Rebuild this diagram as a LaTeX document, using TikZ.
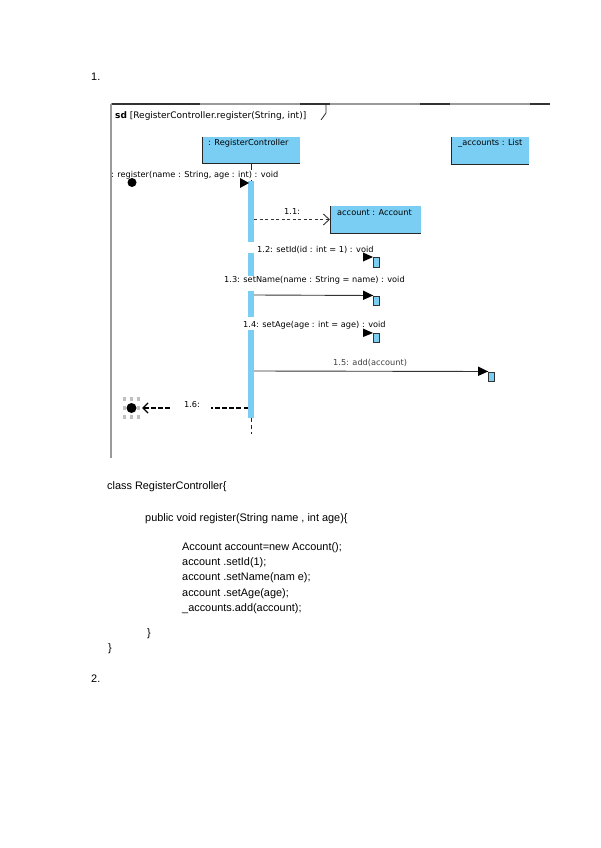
\documentclass[tikz,border=0pt]{standalone}
\usepackage{fontspec}
\setmainfont{Liberation Sans}
\newfontfamily\dvs{DejaVu Sans}
\usetikzlibrary{arrows.meta}
\definecolor{lblue}{HTML}{7ACEF4}
\definecolor{framegrey}{HTML}{9A9A9A}
\begin{document}
\begin{tikzpicture}[x=1pt,y=-1pt,
  lbl/.style={font=\dvs\fontsize{8.2}{9}\selectfont, inner sep=0pt, anchor=base west},
  sdlbl/.style={font=\dvs\fontsize{9}{10}\selectfont, inner sep=0pt, anchor=base west},
  code/.style={font=\fontsize{10.9}{13}\selectfont, inner sep=0pt, anchor=base west},
  lbox/.style={fill=lblue, draw=none, anchor=north west, inner sep=0pt, minimum height=27pt},
  boxedge/.style={draw=black!85, line width=0.9pt},
  abox/.style={fill=lblue, draw=black!80, line width=0.6pt, anchor=north west, inner sep=0pt, minimum width=6pt, minimum height=9pt},
  actbar/.style={fill=lblue, draw=none},
  msg/.style={draw=black!80, line width=0.9pt},
  dmsg/.style={draw=black!80, line width=0.8pt, dash pattern=on 3pt off 2.5pt},
  retmsg/.style={draw=black, line width=1.8pt, dash pattern=on 4.5pt off 2.6pt},
  head/.style={fill=black},
  lifeline/.style={draw=black!85, line width=0.8pt, dash pattern=on 4pt off 3pt},
  framegrey/.style={draw=framegrey, line width=1.2pt},
  framedark/.style={draw=black!80, line width=1.2pt},
  selsq/.style={fill=black!25, draw=none, inner sep=0pt, minimum size=3.8pt},
]
\useasboundingbox (0,0) rectangle (600,848);

% numbering
\node[code] (n1) at (91,81) {1.};
\node[code] (n2) at (91,682) {2.};

% lifeline boxes
\node[lbox, minimum width=98pt] (rc) at (202,136.5) {};
\draw[boxedge] (rc.north west) -- (rc.south west) -- (rc.south east);
\node[lbl] (rct) at (208,145) {: RegisterController};

\node[lbox, minimum width=78pt] (al) at (451,137) {};
\draw[boxedge] (al.north west) -- (al.south west) -- (al.south east);
\node[lbl] (alt) at (458,145) {\_accounts : List};

\node[lbox, minimum width=91pt] (acc) at (330,206) {};
\draw[boxedge] (acc.north west) -- (acc.south west) -- (acc.south east);
\node[lbl] (acct) at (337,215) {account : Account};

% lifeline of RegisterController
\coordinate (lltop) at (251,163);
\coordinate (llbar) at (251,181);
\coordinate (llend) at (251,418);
\coordinate (llbot) at (251,434);
\draw[draw=black!85, line width=0.8pt] (lltop) -- (llbar);
\draw[lifeline] (llend) -- (llbot);

% activation bar (segments, interrupted by labels)
\fill[actbar] (248,181) rectangle (254,242);
\fill[actbar] (248,253) rectangle (254,276);
\fill[actbar] (248,291) rectangle (254,317);
\fill[actbar] (248,330) rectangle (254,418);

% found message
\node[lbl, fill=white, inner ysep=1pt] (m0) at (111,177) {: register(name : String, age : int) : void};
\node[circle, fill=black, inner sep=0pt, minimum size=9pt] (d0) at (132,182.5) {};
\coordinate (t0) at (249,183);
\fill[head] (t0) -- ++(-9,-5) -- ++(0,10) -- cycle;

% 1.1 create
\coordinate (b11) at (254,219.5);
\draw[dmsg, -{Straight Barb[length=6pt,width=11pt,line width=0.9pt]}] (b11) -- (b11 -| acc.west);
\node[lbl] (l11) at (284,214) {1.1:};

% 1.2 setId
\node[abox, minimum height=10pt] (a12) at (373,257) {};
\fill[head] (a12.north west) -- ++(-10,-4.5) -- ++(0,9) -- cycle;
\node[lbl] (l12) at (257,252) {1.2: setId(id : int = 1) : void};

% 1.3 setName
\coordinate (b13) at (254,295);
\node[abox] (a13) at (373,295.5) {};
\draw[msg] (b13) -- (a13.north west);
\fill[head] (a13.north west) -- ++(-10,-5) -- ++(0,9.5) -- cycle;
\node[lbl] (l13) at (224,282) {1.3: setName(name : String = name) : void};

% 1.4 setAge
\node[abox] (a14) at (373,333) {};
\fill[head] (a14.north west) -- ++(-10,-4.5) -- ++(0,8.5) -- cycle;
\node[lbl] (l14) at (243,327) {1.4: setAge(age : int = age) : void};

% 1.5 add
\coordinate (b15) at (254,371);
\node[abox] (a15) at (488,371.5) {};
\draw[msg] (b15) -- (a15.north west);
\fill[head] (a15.north west) -- ++(-10,-5) -- ++(0,9.5) -- cycle;
\node[lbl, text=black!75] (l15) at (333,365) {1.5: add(account)};

% 1.6 return
\foreach \sx in {124.5,131.5,138.5}{
  \foreach \sy in {399,408,417}{
    \node[selsq] at (\sx,\sy) {};
  }
}
\node[circle, fill=black, inner sep=0pt, minimum size=10pt] (d16) at (131.5,408) {};
\coordinate (b16) at (248,408);
\draw[retmsg, shorten >=5.5pt, -{Straight Barb[length=5pt,width=10pt,line width=1.2pt]}] (b16) -- (d16.east);
\node[lbl, fill=white, inner xsep=11pt, inner ysep=2pt, anchor=center] (l16) at (192,405) {1.6:};

% frame
\draw[framegrey] (111,104) -- (111,458);
\draw[framegrey] (111,104) -- (550,104);
\draw[framedark] (112,104) -- (200,104);
\draw[framedark] (300,104) -- (330,104);
\draw[framedark] (420,104) -- (450,104);
\draw[framedark] (530,104) -- (550,104);
\draw[draw=black!85, line width=0.8pt] (326,104) -- (326,113) -- (321,120);
\node[sdlbl] (sd) at (115,118) {\textbf{sd} [RegisterController.register(String, int)]};

% code
\node[code] (c1) at (107,489) {class RegisterController\{};
\node[code] (c2) at (145,521) {public void register(String name , int age)\{};
\node[code] (c3) at (182,550) {Account account=new Account();};
\node[code] (c4) at (182,565) {account .setId(1);};
\node[code] (c5) at (182,580.5) {account .setName(nam e);};
\node[code] (c6) at (182,596) {account .setAge(age);};
\node[code] (c7) at (182,611) {\_accounts.add(account);};
\node[code] (c8) at (147,636.5) {\}};
\node[code] (c9) at (108,651.5) {\}};
\end{tikzpicture}
\end{document}
